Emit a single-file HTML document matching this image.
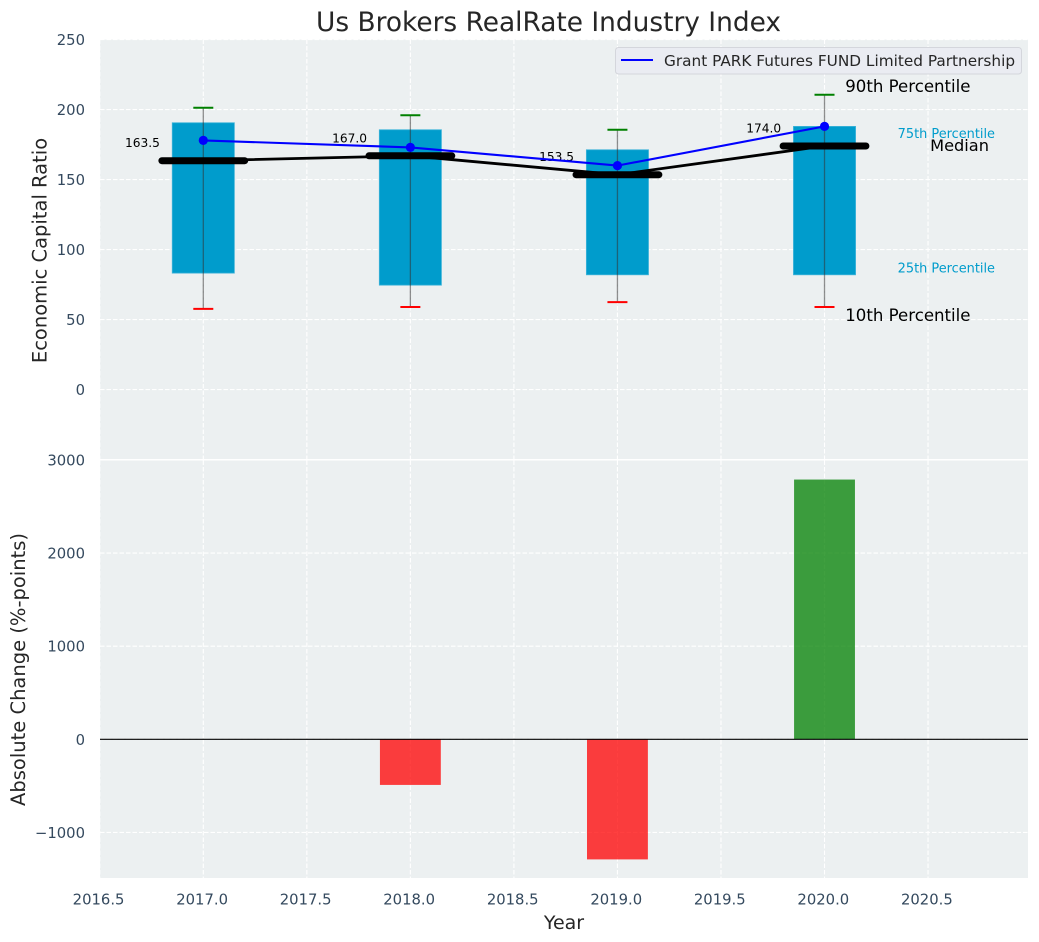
<!DOCTYPE html>
<html>
<head>
<meta charset="utf-8">
<title>Us Brokers RealRate Industry Index</title>
<style>
html,body{margin:0;padding:0;background:#fff;width:1039px;height:942px;overflow:hidden}
svg{display:block}
text{font-family:"DejaVu Sans","Liberation Sans",sans-serif}
</style>
</head>
<body>
<svg id="chart" width="1039" height="942" viewBox="0 0 1039 942" xmlns="http://www.w3.org/2000/svg"></svg>
<script>
const years = [2017, 2018, 2019, 2020];
const p90 = [201.3, 196, 185.6, 210.6];
const p75 = [190.6, 185.6, 171.3, 188];
const medians = [163.5, 167.0, 153.5, 174.0];
const p25 = [83.2, 74.6, 82, 82];
const p10 = [57.7, 59, 62.5, 59];
const fundValues = [178, 173, 160, 188];
const changeValues = [0, -490, -1290, 2790];
const xTicks = [2016.5, 2017.0, 2017.5, 2018.0, 2018.5, 2019.0, 2019.5, 2020.0, 2020.5];
const topYTicks = [0, 50, 100, 150, 200, 250];
const bottomYTicks = [-1000, 0, 1000, 2000, 3000];

const NS = 'http://www.w3.org/2000/svg';
const svg = document.getElementById('chart');
const LEFT = 100, RIGHT = 1028;
const x = v => 203.3 + (v - 2017) * 207.07;
const yTop = v => 389.6 - v * 1.4;
const yBottom = v => 739.3 - v * 0.0931;

function make(tag, attrs, content) {
  const el = document.createElementNS(NS, tag);
  for (const k in attrs) el.setAttribute(k, attrs[k]);
  if (content !== undefined) el.textContent = content;
  svg.appendChild(el);
  return el;
}
let el;

el = make('rect', {x: LEFT, y: 39.5, width: RIGHT - LEFT, height: 419.5, fill: '#ecf0f1'});


el = make('rect', {x: LEFT, y: 460.5, width: RIGHT - LEFT, height: 417.5, fill: '#ecf0f1'});



const gridStyle = {stroke: '#ffffff', 'stroke-width': 1.1, 'stroke-dasharray': '4.5 2', fill: 'none'};
xTicks.forEach(t => {
  el = make('line', {x1: x(t), x2: x(t), y1: 39.5, y2: 459, ...gridStyle});
  
  
  el = make('line', {x1: x(t), x2: x(t), y1: 460.5, y2: 878, ...gridStyle});
  
  
  el = make('text', {x: x(t) - 1.2, y: 904.5, 'text-anchor': 'middle', 'font-size': 14.8, fill: '#34495e'}, t.toFixed(1));
  
  
});
topYTicks.forEach(t => {
  el = make('line', {x1: LEFT, x2: RIGHT, y1: yTop(t), y2: yTop(t), ...gridStyle});
  
  
  el = make('text', {x: 85, y: yTop(t) + 5.5, 'text-anchor': 'end', 'font-size': 14.8, fill: '#34495e'}, String(t));
  
  
});
bottomYTicks.forEach(t => {
  el = make('line', {x1: LEFT, x2: RIGHT, y1: yBottom(t), y2: yBottom(t), ...gridStyle});
  
  
  el = make('text', {x: 85, y: yBottom(t) + 5.5, 'text-anchor': 'end', 'font-size': 14.8, fill: '#34495e'}, String(t).replace('-', '\u2212'));
  
  
});

years.forEach((yr, i) => {
  const w = 0.3;
  el = make('rect', {x: x(yr - w / 2), width: x(yr + w / 2) - x(yr - w / 2), y: yTop(p75[i]), height: yTop(p25[i]) - yTop(p75[i]), fill: '#009ccc', stroke: '#3fb4d9', 'stroke-width': 0.8});
  
  
  el = make('line', {x1: x(yr), x2: x(yr), y1: yTop(p90[i]), y2: yTop(p10[i]), stroke: '#333333', 'stroke-opacity': 0.55, 'stroke-width': 1.3});
  
  
  el = make('line', {x1: x(yr) - 10, x2: x(yr) + 10, y1: yTop(p90[i]), y2: yTop(p90[i]), stroke: '#008000', 'stroke-width': 2});
  
  
  el = make('line', {x1: x(yr) - 10, x2: x(yr) + 10, y1: yTop(p10[i]), y2: yTop(p10[i]), stroke: '#ff0000', 'stroke-width': 2});
  
  
});

el = make('polyline', {points: years.map((yr, i) => x(yr) + ',' + yTop(medians[i])).join(' '), fill: 'none', stroke: '#000000', 'stroke-width': 2.8});


years.forEach((yr, i) => {
  el = make('line', {x1: x(yr - 0.2), x2: x(yr + 0.2), y1: yTop(medians[i]), y2: yTop(medians[i]), stroke: '#000000', 'stroke-width': 7, 'stroke-linecap': 'round'});
  
  
  el = make('text', {x: x(yr - 0.2) - 2, y: yTop(medians[i]) - 13.5, 'text-anchor': 'end', 'font-size': 12.2, fill: '#000000'}, medians[i].toFixed(1));
  
  
});

el = make('polyline', {points: years.map((yr, i) => x(yr) + ',' + yTop(fundValues[i])).join(' '), fill: 'none', stroke: '#0000ff', 'stroke-width': 2.1});


years.forEach((yr, i) => {
  el = make('circle', {cx: x(yr), cy: yTop(fundValues[i]), r: 4.6, fill: '#0000ff'});
  
  
});

years.forEach((yr, i) => {
  const v = changeValues[i];
  if (v === 0) return;
  const y0 = yBottom(Math.max(v, 0)), y1 = yBottom(Math.min(v, 0));
  el = make('rect', {x: x(yr - 0.147), width: x(yr + 0.147) - x(yr - 0.147), y: y0, height: y1 - y0, fill: v < 0 ? '#ff0000' : '#008000', 'fill-opacity': 0.75});
  
  
});
el = make('line', {x1: LEFT, x2: RIGHT, y1: yBottom(0), y2: yBottom(0), stroke: '#000000', 'stroke-width': 1.1});



const last = years.length - 1;
el = make('text', {x: x(2020.1), y: yTop(p90[last]) - 3, 'font-size': 16.6, fill: '#000000'}, '90th Percentile');


el = make('text', {x: x(2020.1), y: yTop(p10[last]) + 14, 'font-size': 16.6, fill: '#000000'}, '10th Percentile');


el = make('text', {x: x(2020.35) + 0.7, y: yTop(p75[last]) + 11.5, 'font-size': 12.9, fill: '#009ccc'}, '75th Percentile');


el = make('text', {x: x(2020.35) + 0.7, y: yTop(p25[last]) - 2.5, 'font-size': 12.9, fill: '#009ccc'}, '25th Percentile');


el = make('text', {x: x(2020.51), y: yTop(medians[last]) + 5, 'font-size': 16.2, fill: '#000000'}, 'Median');



el = make('rect', {x: 615.5, y: 47.5, width: 406, height: 26.5, rx: 3, fill: '#eaecf2', stroke: '#d4d6dc', 'stroke-width': 1});


el = make('line', {x1: 621, x2: 653, y1: 60, y2: 60, stroke: '#0000ff', 'stroke-width': 2.1});


el = make('text', {x: 664, y: 66, 'font-size': 15.3, fill: '#262626'}, 'Grant PARK Futures FUND Limited Partnership');



el = make('text', {x: 548.5, y: 31, 'text-anchor': 'middle', 'font-size': 26.4, fill: '#262626'}, 'Us Brokers RealRate Industry Index');


el = make('text', {x: 564, y: 929, 'text-anchor': 'middle', 'font-size': 19, fill: '#262626'}, 'Year');


el = make('text', {transform: 'translate(46.5 250.5) rotate(-90)', 'text-anchor': 'middle', 'font-size': 19.5, fill: '#262626'}, 'Economic Capital Ratio');


el = make('text', {transform: 'translate(25 669.5) rotate(-90)', 'text-anchor': 'middle', 'font-size': 19.5, fill: '#262626'}, 'Absolute Change (%-points)');


</script>
</body>
</html>
